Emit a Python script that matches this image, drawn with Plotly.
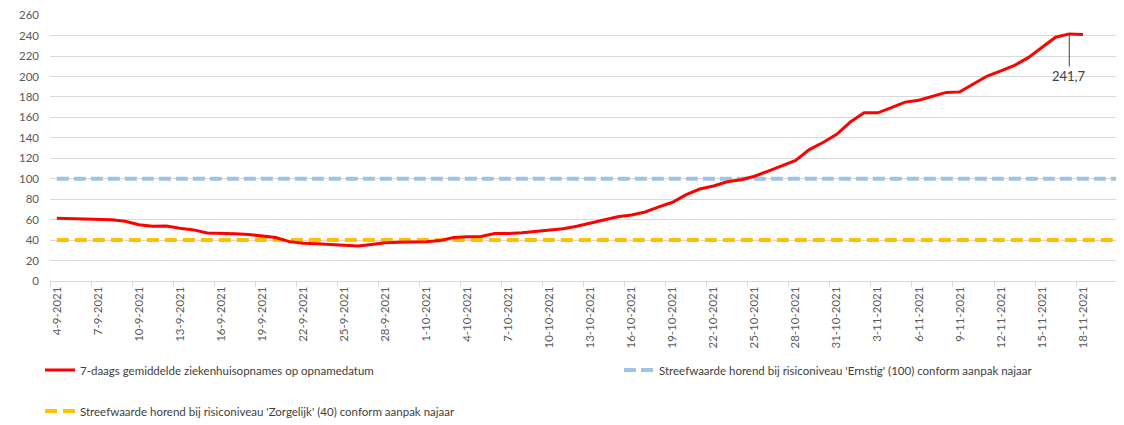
import plotly.graph_objects as go
import pandas as pd

# ---- data ----
start_date = "2021-09-04"
opnames_7d = [
    61.5, 61.0, 60.8, 60.0, 59.8, 58.5, 55.0, 53.5, 53.8, 51.5,
    50.0, 47.0, 46.8, 46.2, 45.5, 44.3, 42.5, 38.5, 37.0, 36.5,
    35.8, 34.5, 34.2, 35.8, 37.5, 37.8, 38.0, 38.5, 39.5, 42.5,
    43.2, 43.5, 46.5, 46.5, 47.3, 48.5, 49.8, 51.2, 53.5, 56.5,
    60.0, 62.8, 64.5, 67.5, 72.5, 77.0, 84.5, 90.0, 93.0, 97.0,
    99.0, 102.5, 107.5, 113.0, 118.0, 128.5, 135.5, 143.5, 155.5, 164.5,
    164.5, 169.5, 175.0, 176.8, 180.8, 184.5, 185.0, 192.5, 200.5, 205.5,
    211.0, 218.5, 228.5, 238.5, 241.7, 241.2,
]
n_categories = 79  # axis categories (4-9-2021 .. 21-11-2021)
streef_ernstig = 100
streef_zorgelijk = 40
tick_labels = [
    "4-9-2021", "7-9-2021", "10-9-2021", "13-9-2021", "16-9-2021", "19-9-2021",
    "22-9-2021", "25-9-2021", "28-9-2021", "1-10-2021", "4-10-2021", "7-10-2021",
    "10-10-2021", "13-10-2021", "16-10-2021", "19-10-2021", "22-10-2021",
    "25-10-2021", "28-10-2021", "31-10-2021", "3-11-2021", "6-11-2021",
    "9-11-2021", "12-11-2021", "15-11-2021", "18-11-2021", "21-11-2021",
]
y_ticks = list(range(0, 261, 20))

# ---- build ----
dates = pd.date_range(start_date, periods=n_categories, freq="D")
labels_all = [f"{d.day}-{d.month}-{d.year}" for d in dates]
idx_all = list(range(n_categories))
idx_data = idx_all[: len(opnames_7d)]
tick_pos = [labels_all.index(t) for t in tick_labels]

peak_val = max(opnames_7d)
peak_idx = opnames_7d.index(peak_val)

font_fam = "Lato, 'Open Sans', sans-serif"
leg_font = dict(family=font_fam, size=11.5, color="#404040")
fig = go.Figure()

fig.add_trace(go.Scatter(
    x=idx_all, y=[streef_ernstig] * n_categories, mode="lines",
    name="Streefwaarde horend bij risiconiveau 'Ernstig' (100) conform aanpak najaar",
    line=dict(color="#9DC3E6", width=4, dash="12px,5px"),
    legend="legend2",
))
fig.add_trace(go.Scatter(
    x=idx_all, y=[streef_zorgelijk] * n_categories, mode="lines",
    name="Streefwaarde horend bij risiconiveau 'Zorgelijk' (40) conform aanpak najaar",
    line=dict(color="#FFC000", width=4, dash="12px,6px"),
    legend="legend3",
))
fig.add_trace(go.Scatter(
    x=idx_data, y=opnames_7d, mode="lines",
    name="7-daags gemiddelde ziekenhuisopnames op opnamedatum",
    line=dict(color="#FF0000", width=3),
    legend="legend",
))

fig.add_annotation(
    x=peak_idx, y=peak_val,
    text=f"{peak_val:.1f}".replace(".", ","),
    showarrow=True, arrowhead=0, arrowwidth=1, arrowcolor="#404040",
    ax=0, ay=42,
    font=dict(family=font_fam, size=13, color="#404040"),
)

# the page body adds an 8px margin; the figure is sized to fit the window
W, H = 1116, 417
def leg(px_x, px_y):
    return dict(
        xref="container", yref="container",
        x=px_x / W, xanchor="left", y=1 - px_y / H, yanchor="middle",
        orientation="h", font=leg_font, bgcolor="rgba(0,0,0,0)",
    )

fig.update_layout(
    width=W, height=H,
    margin=dict(l=42, r=0, t=7, b=144, autoexpand=False),
    paper_bgcolor="white", plot_bgcolor="white",
    font=dict(family=font_fam, color="#595959"),
    showlegend=True,
    legend=leg(32, 362),
    legend2=leg(611, 362),
    legend3=leg(32, 403),
)
fig.update_xaxes(
    range=[-0.5, 78.0], automargin=False,
    tickmode="array", tickvals=tick_pos, ticktext=tick_labels,
    tickangle=-90, ticks="", ticklabeloverflow="allow",
    tickfont=dict(family=font_fam, size=11.5, color="#595959"),
    showgrid=False, zeroline=False,
    showline=True, linecolor="#D9D9D9", linewidth=1,
    minor=dict(tickmode="linear", tick0=-0.5, dtick=3, ticks="outside",
               ticklen=5, tickcolor="#D9D9D9", tickwidth=1, showgrid=False),
)
fig.update_yaxes(
    range=[0, 260.2], automargin=False, tickmode="array", tickvals=y_ticks,
    showgrid=True, gridcolor="#D9D9D9", gridwidth=1,
    zeroline=False, ticks="", ticklabelstandoff=10, ticklabeloverflow="allow",
    tickfont=dict(family=font_fam, size=11.5, color="#595959"),
)

fig.write_html("out.html")
